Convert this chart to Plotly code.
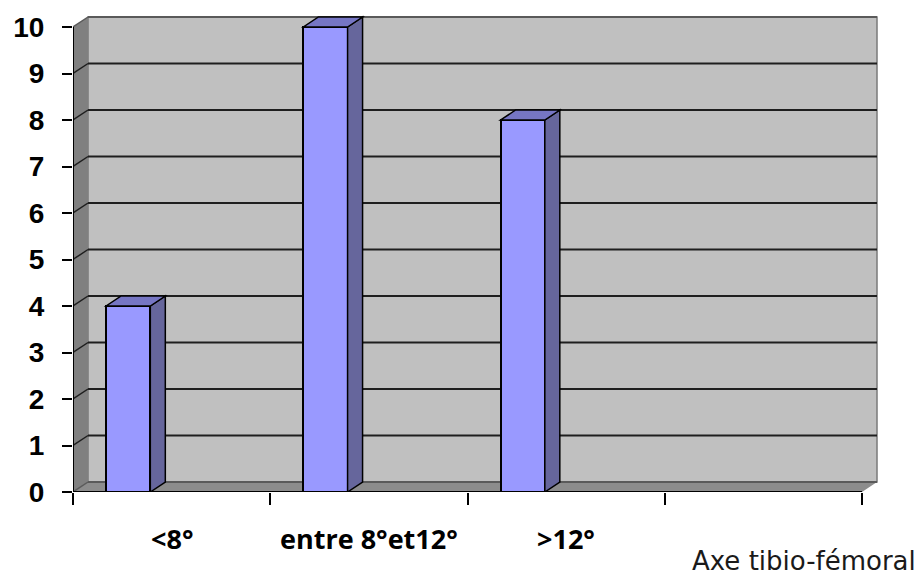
import plotly.graph_objects as go

# Data
categories = ["<8°", "entre 8°et12°", ">12°", ""]
counts = [4, 10, 8, None]          # last slot is empty
y_ticks = list(range(0, 11))
x_title = "Axe tibio-fémoral"

# Figure geometry (pixels)
W, H = 923, 576
M_L, M_B, M_T, M_R = 73, 84, 8, 38
PX_PER_X = 197.25                  # pixels per category slot
PX_PER_Y = 46.5                    # pixels per count unit
plot_w = W - M_L - M_R
plot_h = H - M_B - M_T
n_slots = len(categories)
x_max = plot_w / PX_PER_X
y_max = plot_h / PX_PER_Y

# 3-D depth offset expressed in data units
DX = 15 / PX_PER_X
DY = 10 / PX_PER_Y
BAR_OFF = 0.168
BAR_W = 0.224

FRONT = "#9999FF"
SIDE = "#66669C"
TOP = "#7676C4"
WALL = "#C0C0C0"
LEFT_WALL = "#808080"
FLOOR = "#8C8C8C"
y_top = y_ticks[-1]

shapes = []
# back wall
shapes.append(dict(type="rect", xref="x", yref="y", x0=DX, x1=n_slots + DX,
                   y0=DY, y1=y_top + DY, fillcolor=WALL,
                   line=dict(color="#7A7A7A", width=1.5), layer="below"))
# left wall
shapes.append(dict(type="path", xref="x", yref="y",
                   path=f"M 0,0 L 0,{y_top} L {DX},{y_top + DY} L {DX},{DY} Z",
                   fillcolor=LEFT_WALL, line=dict(width=0), layer="below"))
# floor
shapes.append(dict(type="path", xref="x", yref="y",
                   path=f"M 0,0 L {n_slots},0 L {n_slots + DX},{DY} L {DX},{DY} Z",
                   fillcolor=FLOOR, line=dict(width=0), layer="below"))
# gridlines on the back wall with their diagonals on the left wall
for k in y_ticks:
    col = "#1E1E1E" if 0 < k < y_top else "#5A5A5A"
    shapes.append(dict(type="line", xref="x", yref="y", x0=DX, x1=n_slots + DX,
                       y0=k + DY, y1=k + DY, line=dict(color=col, width=2),
                       layer="below"))
    shapes.append(dict(type="line", xref="x", yref="y", x0=0, x1=DX,
                       y0=k, y1=k + DY, line=dict(color=col, width=1.5),
                       layer="below"))

bar_x = []
bar_y = []
for i, v in enumerate(counts):
    if v is None:
        continue
    x0 = i + BAR_OFF
    x1 = x0 + BAR_W
    bar_x.append(x0 + BAR_W / 2)
    bar_y.append(v)
    # right side face
    shapes.append(dict(type="path", xref="x", yref="y",
                       path=f"M {x1},0 L {x1 + DX},{DY} L {x1 + DX},{v + DY} L {x1},{v} Z",
                       fillcolor=SIDE, line=dict(color="black", width=1.5),
                       layer="above"))
    # top face
    shapes.append(dict(type="path", xref="x", yref="y",
                       path=f"M {x0},{v} L {x1},{v} L {x1 + DX},{v + DY} L {x0 + DX},{v + DY} Z",
                       fillcolor=TOP, line=dict(color="black", width=1.5),
                       layer="above"))

# front axis lines
shapes.append(dict(type="line", xref="x", yref="y", x0=0, x1=0, y0=0, y1=y_top,
                   line=dict(color="black", width=2), layer="above"))
shapes.append(dict(type="line", xref="x", yref="y", x0=0, x1=n_slots, y0=0, y1=0,
                   line=dict(color="black", width=2), layer="above"))

fig = go.Figure(go.Bar(
    x=bar_x, y=bar_y, width=BAR_W,
    marker=dict(color=FRONT, line=dict(color="black", width=2)),
    hoverinfo="skip",
))

annotations = []
for i, c in enumerate(categories):
    if not c:
        continue
    annotations.append(dict(x=(i + 0.5) / x_max, y=-46 / plot_h,
                            xref="paper", yref="paper",
                            text=c, showarrow=False, xanchor="center",
                            yanchor="middle",
                            font=dict(family="Open Sans", size=27,
                                      weight="bold", color="black")))
annotations.append(dict(x=(918 - M_L) / plot_w, y=-(578 - 492) / plot_h,
                        xref="paper", yref="paper", text=x_title,
                        showarrow=False, xanchor="right", yanchor="bottom",
                        font=dict(family="DejaVu Sans", size=26, color="#1A1A1A")))

fig.update_layout(
    width=W, height=H, autosize=False,
    margin=dict(l=M_L, r=M_R, t=M_T, b=M_B, pad=0),
    paper_bgcolor="white", plot_bgcolor="white",
    showlegend=False, bargap=0,
    shapes=shapes, annotations=annotations,
    xaxis=dict(range=[0, x_max], tickvals=list(range(n_slots + 1)),
               ticktext=[""] * (n_slots + 1), ticks="outside", ticklen=12,
               tickwidth=2, tickcolor="black", showgrid=False,
               zeroline=False, showline=False, fixedrange=True),
    yaxis=dict(range=[0, y_max], tickvals=y_ticks, ticks="outside",
               ticklen=10, tickwidth=2, tickcolor="black", showgrid=False,
               zeroline=False, showline=False, ticklabelstandoff=12,
               tickfont=dict(family="Liberation Sans", size=28,
                             weight="bold", color="black"),
               fixedrange=True),
)

fig.write_html("out.html")
